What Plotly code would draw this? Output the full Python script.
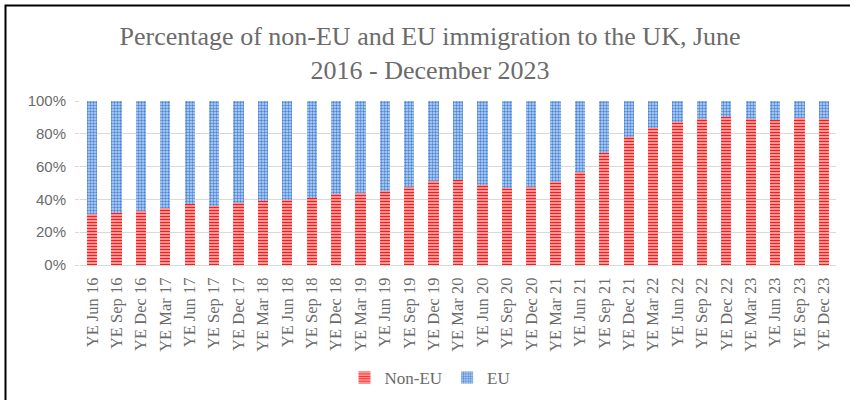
import plotly.graph_objects as go

# Year-ending quarters
periods = [
    "YE Jun 16", "YE Sep 16", "YE Dec 16",
    "YE Mar 17", "YE Jun 17", "YE Sep 17", "YE Dec 17",
    "YE Mar 18", "YE Jun 18", "YE Sep 18", "YE Dec 18",
    "YE Mar 19", "YE Jun 19", "YE Sep 19", "YE Dec 19",
    "YE Mar 20", "YE Jun 20", "YE Sep 20", "YE Dec 20",
    "YE Mar 21", "YE Jun 21", "YE Sep 21", "YE Dec 21",
    "YE Mar 22", "YE Jun 22", "YE Sep 22", "YE Dec 22",
    "YE Mar 23", "YE Jun 23", "YE Sep 23", "YE Dec 23",
]

# Share of immigration (%)
non_eu = [31, 32, 33, 35, 37, 36, 38,
          39, 39.5, 41, 43.5,
          44, 45, 47.5, 51,
          52, 49, 47, 47.5,
          50.5, 56.5, 68, 78,
          83.5, 87, 89, 90,
          89, 88.5, 89.5, 89]
eu = [69, 68, 67, 65, 63, 64, 62,
      61, 60.5, 59, 56.5,
      56, 55, 52.5, 49,
      48, 51, 53, 52.5,
      49.5, 43.5, 32, 22,
      16.5, 13, 11, 10,
      11, 11.5, 10.5, 11]

y_ticks = [0, 20, 40, 60, 80, 100]
y_tick_labels = ["0%", "20%", "40%", "60%", "80%", "100%"]

GREY = "#6b6b6b"
SERIF = "Liberation Serif"

fig = go.Figure()
fig.add_trace(go.Bar(
    x=periods, y=non_eu, name="Non-EU",
    marker=dict(
        color="white",
        line=dict(width=0),
        pattern=dict(shape="-", size=3, solidity=0.6,
                     fgcolor="#ff1a1a", bgcolor="#ffe5e5", fillmode="replace"),
    ),
))
fig.add_trace(go.Bar(
    x=periods, y=eu, name="EU",
    marker=dict(
        color="white",
        line=dict(width=0),
        pattern=dict(shape=".", size=3, solidity=0.5,
                     fgcolor="#4a86d8", bgcolor="#c2d8f3", fillmode="replace"),
    ),
))

L, R, T, B = 80, 14, 101, 135
W, H = 850, 400
pw, ph = W - L - R, H - T - B

def px_x(p):
    return (p - L) / pw

def px_y(p):
    return (H - B - p) / ph

# outer frame (top and left edges fall inside the page)
fig.add_shape(type="rect", xref="paper", yref="paper",
              x0=px_x(5.5), x1=px_x(870), y0=px_y(420), y1=px_y(5.5),
              line=dict(color="black", width=2), fillcolor="rgba(0,0,0,0)")

fig.update_layout(
    width=W, height=H,
    margin=dict(l=L, r=R, t=T, b=B, autoexpand=False),
    barmode="stack",
    bargap=0.58,
    paper_bgcolor="white",
    plot_bgcolor="white",
    title=dict(
        text="Percentage of non-EU and EU immigration to the UK, June<br>2016 - December 2023",
        x=0.506, xanchor="center", xref="container",
        y=1 - 45 / H, yanchor="middle", yref="container",
        font=dict(family=SERIF, size=26, color=GREY),
    ),
    xaxis=dict(
        tickangle=-90,
        tickfont=dict(family=SERIF, size=16.5, color=GREY),
        showline=True, linecolor="#d9d9d9", linewidth=1,
        ticks="outside", ticklen=5, tickcolor="rgba(0,0,0,0)",
        showgrid=False, automargin=False,
    ),
    yaxis=dict(
        range=[0, 100],
        tickvals=y_ticks,
        ticktext=y_tick_labels,
        tickfont=dict(family="Liberation Sans", size=15, color=GREY),
        ticklabelstandoff=6,
        showgrid=True, gridcolor="#d9d9d9", gridwidth=1,
        ticks="outside", ticklen=4, tickcolor="#d9d9d9",
        zeroline=False, showline=False, automargin=False,
    ),
    legend=dict(
        orientation="h",
        traceorder="normal",
        xref="container", x=430 / W, xanchor="center",
        yref="container", y=1 - 378 / H, yanchor="middle",
        font=dict(family=SERIF, size=17, color=GREY),
        itemwidth=30,
    ),
    showlegend=True,
)

fig.write_html("out.html")
